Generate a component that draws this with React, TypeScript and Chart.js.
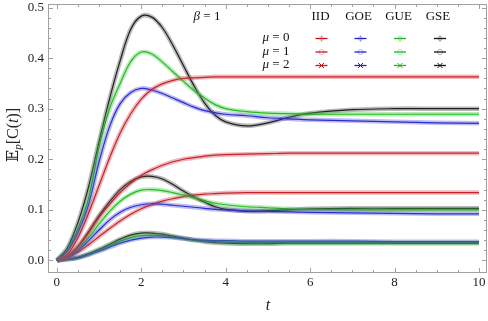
import { useEffect, useRef } from "react";
import { Chart, registerables } from "chart.js";

Chart.register(...registerables);

// ---- data ----
const tValues = [0, 0.25, 0.5, 0.75, 1, 1.25, 1.5, 1.75, 2, 2.25, 2.5, 2.75, 3, 3.25, 3.5, 3.75, 4, 4.5, 5, 5.5, 6, 7, 8, 9, 10];

const iidMu0 = [0, 0.012, 0.045, 0.093, 0.148, 0.203, 0.252, 0.29, 0.319, 0.338, 0.349, 0.356, 0.36, 0.361, 0.362, 0.363, 0.363, 0.363, 0.363, 0.363, 0.363, 0.363, 0.363, 0.363, 0.363];
const goeMu0 = [0, 0.018, 0.055, 0.11, 0.195, 0.265, 0.31, 0.332, 0.34, 0.337, 0.33, 0.321, 0.312, 0.303, 0.296, 0.292, 0.289, 0.286, 0.282, 0.28, 0.278, 0.276, 0.274, 0.272, 0.271];
const gueMu0 = [0, 0.02, 0.062, 0.122, 0.225, 0.3, 0.35, 0.393, 0.412, 0.408, 0.392, 0.373, 0.354, 0.336, 0.321, 0.308, 0.3, 0.294, 0.291, 0.29, 0.289, 0.289, 0.289, 0.289, 0.289];
const gseMu0 = [0, 0.025, 0.075, 0.145, 0.235, 0.32, 0.395, 0.457, 0.483, 0.481, 0.46, 0.425, 0.385, 0.345, 0.311, 0.287, 0.274, 0.266, 0.272, 0.283, 0.291, 0.298, 0.3, 0.3, 0.3];

const iidMu1 = [0, 0.008, 0.027, 0.055, 0.086, 0.111, 0.134, 0.153, 0.168, 0.179, 0.188, 0.195, 0.2, 0.203, 0.206, 0.208, 0.209, 0.21, 0.211, 0.212, 0.212, 0.212, 0.212, 0.212, 0.212];
const goeMu1 = [0, 0.006, 0.019, 0.039, 0.06, 0.08, 0.095, 0.105, 0.11, 0.112, 0.111, 0.109, 0.107, 0.105, 0.103, 0.101, 0.1, 0.098, 0.097, 0.096, 0.095, 0.094, 0.093, 0.092, 0.092];
const gueMu1 = [0, 0.007, 0.022, 0.045, 0.072, 0.097, 0.117, 0.131, 0.139, 0.14, 0.138, 0.134, 0.129, 0.124, 0.118, 0.113, 0.11, 0.106, 0.104, 0.102, 0.101, 0.1, 0.1, 0.1, 0.1];
const gseMu1 = [0, 0.008, 0.027, 0.056, 0.088, 0.116, 0.14, 0.156, 0.165, 0.166, 0.161, 0.15, 0.137, 0.125, 0.115, 0.106, 0.101, 0.097, 0.098, 0.1, 0.102, 0.103, 0.103, 0.103, 0.103];

const iidMu2 = [0, 0.005, 0.016, 0.031, 0.047, 0.063, 0.078, 0.091, 0.102, 0.11, 0.117, 0.122, 0.126, 0.129, 0.131, 0.132, 0.133, 0.134, 0.134, 0.134, 0.134, 0.134, 0.134, 0.134, 0.134];
const goeMu2 = [0, 0.002, 0.005, 0.011, 0.018, 0.026, 0.034, 0.04, 0.044, 0.046, 0.046, 0.045, 0.043, 0.041, 0.04, 0.039, 0.039, 0.038, 0.038, 0.038, 0.038, 0.038, 0.037, 0.037, 0.037];
const gueMu2 = [0, 0.002, 0.005, 0.012, 0.02, 0.029, 0.038, 0.045, 0.049, 0.05, 0.049, 0.046, 0.043, 0.04, 0.038, 0.037, 0.036, 0.035, 0.035, 0.035, 0.035, 0.035, 0.035, 0.035, 0.035];
const gseMu2 = [0, 0.002, 0.006, 0.013, 0.022, 0.032, 0.042, 0.05, 0.054, 0.054, 0.052, 0.048, 0.044, 0.04, 0.037, 0.035, 0.034, 0.033, 0.033, 0.034, 0.034, 0.034, 0.034, 0.034, 0.034];

const ensembleNames = ["IID", "GOE", "GUE", "GSE"];
const muValues = ["0", "1", "2"];
const betaValue = "1";
const xTickLabels = ["0", "2", "4", "6", "8", "10"];
const yTickLabels = ["0.0", "0.1", "0.2", "0.3", "0.4", "0.5"];

const seriesByMu = [
  [iidMu0, goeMu0, gueMu0, gseMu0],
  [iidMu1, goeMu1, gueMu1, gseMu1],
  [iidMu2, goeMu2, gueMu2, gseMu2],
];

// ---- styles ----
const lineColors = ["#c0161c", "#1e1ecc", "#1db41d", "#111111"];
const haloColors = ["rgba(205,60,70,0.36)", "rgba(70,70,215,0.36)", "rgba(60,200,60,0.36)", "rgba(60,60,60,0.36)"];
const SERIF = "'Liberation Serif', 'Times New Roman', 'DejaVu Serif', serif";

function drawMarker(ctx: CanvasRenderingContext2D, kind: number, x: number, y: number, color: string, halo: string) {
  ctx.save();
  if (kind === 0) {
    ctx.strokeStyle = halo;
    ctx.lineWidth = 1;
    ctx.beginPath();
    ctx.arc(x, y, 2, 0, Math.PI * 2);
    ctx.moveTo(x, y - 3.5);
    ctx.lineTo(x, y + 3.5);
    ctx.stroke();
  } else if (kind === 1) {
    ctx.strokeStyle = halo;
    ctx.lineWidth = 1;
    ctx.beginPath();
    ctx.arc(x, y, 2.6, 0, Math.PI * 2);
    ctx.stroke();
  } else {
    ctx.strokeStyle = color;
    ctx.lineWidth = 1;
    ctx.beginPath();
    ctx.moveTo(x - 2.5, y - 2.5);
    ctx.lineTo(x + 2.5, y + 2.5);
    ctx.moveTo(x + 2.5, y - 2.5);
    ctx.lineTo(x - 2.5, y + 2.5);
    ctx.stroke();
  }
  ctx.restore();
}

const framePlugin = {
  id: "mmaFrame",
  afterDraw(chart: any) {
    const { ctx, chartArea: a, scales } = chart;
    const xs = scales.x;
    const ys = scales.y;
    ctx.save();
    // frame
    ctx.strokeStyle = "#a0a0a0";
    ctx.lineWidth = 1;
    ctx.strokeRect(Math.round(a.left) + 0.5, Math.round(a.top) + 0.5, Math.round(a.right - a.left) - 1, Math.round(a.bottom - a.top) - 1);
    // ticks (inward, on all four sides)
    ctx.beginPath();
    for (let i = 0; i <= 20; i++) {
      const v = i * 0.5;
      const px = Math.round(xs.getPixelForValue(v)) + 0.5;
      const len = i % 4 === 0 ? 5 : 3;
      ctx.moveTo(px, a.bottom);
      ctx.lineTo(px, a.bottom - len);
      ctx.moveTo(px, a.top);
      ctx.lineTo(px, a.top + len);
    }
    for (let i = 0; i <= 25; i++) {
      const v = i * 0.02;
      const py = Math.round(ys.getPixelForValue(v)) + 0.5;
      const len = i % 5 === 0 ? 5 : 3;
      ctx.moveTo(a.left, py);
      ctx.lineTo(a.left + len, py);
      ctx.moveTo(a.right, py);
      ctx.lineTo(a.right - len, py);
    }
    ctx.stroke();

    // tick labels
    ctx.fillStyle = "#222";
    ctx.font = `13px ${SERIF}`;
    ctx.textAlign = "center";
    ctx.textBaseline = "middle";
    xTickLabels.forEach((lab) => {
      ctx.fillText(lab, xs.getPixelForValue(parseFloat(lab)), a.bottom + 10);
    });
    ctx.textAlign = "right";
    yTickLabels.forEach((lab) => {
      ctx.fillText(lab, a.left - 4, ys.getPixelForValue(parseFloat(lab)));
    });

    // x title
    ctx.textAlign = "center";
    ctx.font = `italic 16px ${SERIF}`;
    ctx.fillText("t", (a.left + a.right) / 2 + 0.5, a.bottom + 33);

    // y title: E_p[C(t)]
    ctx.save();
    ctx.translate(14, 135);
    ctx.rotate(-Math.PI / 2);
    ctx.textAlign = "left";
    ctx.textBaseline = "middle";
    const parts = [
      { s: "\u{1D53C}", f: `16px ${SERIF}`, dy: 0 },
      { s: "p", f: `italic 11px ${SERIF}`, dy: 4 },
      { s: "[C(", f: `16px ${SERIF}`, dy: 0 },
      { s: "t", f: `italic 16px ${SERIF}`, dy: 0 },
      { s: ")]", f: `16px ${SERIF}`, dy: 0 },
    ];
    let total = 0;
    const widths = parts.map((p) => {
      ctx.font = p.f;
      const w = ctx.measureText(p.s).width;
      total += w;
      return w;
    });
    let cx = -total / 2;
    parts.forEach((p, i) => {
      ctx.font = p.f;
      ctx.fillText(p.s, cx, p.dy);
      cx += widths[i];
    });
    ctx.restore();

    // legend: beta
    ctx.textBaseline = "middle";
    ctx.textAlign = "left";
    ctx.fillStyle = "#111";
    ctx.font = `italic 13px ${SERIF}`;
    const bW = ctx.measureText("\u03B2").width;
    ctx.font = `13px ${SERIF}`;
    const restB = " = " + betaValue;
    const rW = ctx.measureText(restB).width;
    const bx = 207 - (bW + rW) / 2;
    ctx.font = `italic 13px ${SERIF}`;
    ctx.fillText("\u03B2", bx, 17);
    ctx.font = `13px ${SERIF}`;
    ctx.fillText(restB, bx + bW, 17);

    // headers
    const colX = [321.5, 360.5, 400, 440];
    const headX = [320.5, 358.5, 398.5, 438];
    ctx.textAlign = "center";
    ensembleNames.forEach((n, i) => ctx.fillText(n, headX[i], 17));

    // rows
    const rowY = [38, 51.5, 65];
    muValues.forEach((m, r) => {
      ctx.textAlign = "left";
      ctx.font = `italic 13px ${SERIF}`;
      const mW = ctx.measureText("\u03BC").width;
      ctx.font = `13px ${SERIF}`;
      const rest = " = " + m;
      const w2 = ctx.measureText(rest).width;
      const sx = 276 - (mW + w2) / 2;
      ctx.font = `italic 13px ${SERIF}`;
      ctx.fillText("\u03BC", sx, rowY[r]);
      ctx.font = `13px ${SERIF}`;
      ctx.fillText(rest, sx + mW, rowY[r]);
      colX.forEach((x, c) => {
        ctx.strokeStyle = lineColors[c];
        ctx.lineWidth = 1.3;
        ctx.beginPath();
        ctx.moveTo(x - 6, rowY[r] + 0.5);
        ctx.lineTo(x + 6, rowY[r] + 0.5);
        ctx.stroke();
        drawMarker(ctx, r, x, rowY[r] + 0.5, lineColors[c], haloColors[c]);
      });
    });
    ctx.restore();
  },
};

export default function App() {
  const ref = useRef<HTMLCanvasElement | null>(null);
  useEffect(() => {
    document.body.style.margin = "0";
    const canvas = ref.current;
    if (!canvas) return;
    const halos: any[] = [];
    const lines: any[] = [];
    seriesByMu.forEach((group, m) => {
      group.forEach((vals, e) => {
        const data = tValues.map((t, i) => ({ x: t, y: vals[i] }));
        halos.push({
          label: `${ensembleNames[e]} mu=${muValues[m]} markers`,
          data,
          borderColor: haloColors[e],
          borderWidth: 4.5,
          pointRadius: 0,
          tension: 0.35,
          fill: false,
        });
        lines.push({
          label: `${ensembleNames[e]} mu=${muValues[m]}`,
          data,
          borderColor: lineColors[e],
          borderWidth: 1.2,
          pointRadius: 0,
          tension: 0.35,
          fill: false,
        });
      });
    });
    const chart = new Chart(canvas, {
      type: "line",
      data: { datasets: [...halos, ...lines] },
      options: {
        animation: false,
        responsive: false,
        events: [],
        layout: { padding: { left: 48, right: 1, top: 4, bottom: 48 } },
        plugins: { legend: { display: false }, tooltip: { enabled: false } },
        scales: {
          x: { type: "linear", min: -0.21, max: 10.19, display: false },
          y: { type: "linear", min: -0.025, max: 0.507, display: false },
        },
      },
      plugins: [framePlugin],
    });
    return () => chart.destroy();
  }, []);
  return (
    <div style={{ width: 488, height: 321 }}>
      <canvas ref={ref} width={488} height={321} style={{ display: "block" }} />
    </div>
  );
}
